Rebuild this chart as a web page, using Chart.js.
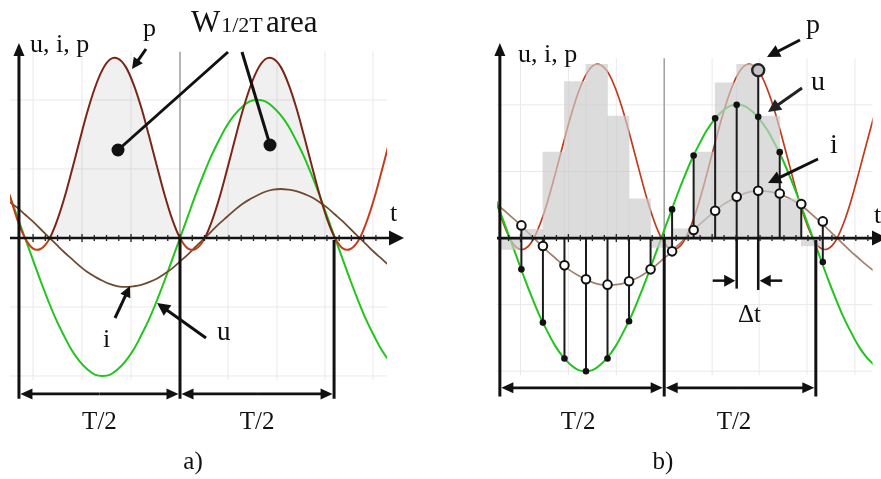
<!DOCTYPE html>
<html><head><meta charset="utf-8">
<script src="https://cdn.jsdelivr.net/npm/chart.js@4.4.1/dist/chart.umd.min.js"></script>
<style>
html,body{margin:0;padding:0;background:#fff;}
#wrap{position:relative;width:881px;height:479px;overflow:hidden;background:#fff;}
canvas{position:absolute;top:0;}
</style></head><body>
<div id="wrap">
<canvas id="ca" width="440" height="479" style="left:0px"></canvas>
<canvas id="cb" width="441" height="479" style="left:440px"></canvas>
</div>
<script>
// ---- time axis (ms), one period = 20 ms ----
const tCurve = [-1,-0.5,0,0.5,1,1.5,2,2.5,3,3.5,4,4.5,5,5.5,6,6.5,7,7.5,8,8.5,9,9.5,10,10.5,11,11.5,12,12.5,13,13.5,14,14.5,15,15.5,16,16.5,17,17.5,18,18.5,19,19.5,20,20.5,21,21.5,22,22.5,23,23.5,24];
// voltage u
const uCurve = [0.62,0.31,0,-0.31,-0.62,-0.91,-1.18,-1.41,-1.62,-1.78,-1.9,-1.98,-2,-1.98,-1.9,-1.78,-1.62,-1.41,-1.18,-0.91,-0.62,-0.31,0,0.31,0.62,0.91,1.18,1.41,1.62,1.78,1.9,1.98,2,1.98,1.9,1.78,1.62,1.41,1.18,0.91,0.62,0.31,0,-0.31,-0.62,-0.91,-1.18,-1.41,-1.62,-1.78,-1.9];
// current i
const iCurve = [0.52,0.44,0.34,0.24,0.13,0.02,-0.09,-0.2,-0.3,-0.4,-0.49,-0.56,-0.62,-0.67,-0.7,-0.71,-0.7,-0.68,-0.64,-0.59,-0.52,-0.44,-0.34,-0.24,-0.13,-0.02,0.09,0.2,0.3,0.4,0.49,0.56,0.62,0.67,0.7,0.71,0.7,0.68,0.64,0.59,0.52,0.44,0.34,0.24,0.13,0.02,-0.09,-0.2,-0.3,-0.4,-0.49];
// power p
const pCurve = [0.63,0.27,0,-0.15,-0.16,-0.04,0.21,0.55,0.96,1.39,1.81,2.17,2.44,2.59,2.6,2.48,2.23,1.89,1.48,1.05,0.63,0.27,0,-0.15,-0.16,-0.04,0.21,0.55,0.96,1.39,1.81,2.17,2.44,2.59,2.6,2.48,2.23,1.89,1.48,1.05,0.63,0.27,0,-0.15,-0.16,-0.04,0.21,0.55,0.96,1.39,1.81];
// W 1/2T shaded lobes (panel a), time ranges
const areaRanges = [[1.5,10],[11.5,20]];
// panel b: samples every Δt
const sampleT = [0.77,2.19,3.61,5.03,6.45,7.87,9.29,10.71,12.13,13.55,14.97,16.39,17.81,19.23,20.65];
const sampleU = [-0.47,-1.27,-1.81,-2.0,-1.81,-1.25,-0.45,0.43,1.24,1.8,2.0,1.82,1.29,0.5,-0.36];
const sampleI = [0.19,-0.12,-0.41,-0.62,-0.7,-0.65,-0.47,-0.2,0.12,0.41,0.62,0.71,0.67,0.51,0.25];
const pSampleIndex = 11;
const pSampleValue = 2.52;
// panel b: sample-and-hold power bars
const barT = [0.06,1.48,2.9,4.32,5.74,7.16,8.58,10.0,11.42,12.84,14.26,15.68,17.1,18.52,19.94];
const barP = [-0.17,0.13,1.29,2.35,2.61,1.83,0.59,-0.14,0.14,1.29,2.33,2.61,1.83,0.59,-0.12];
// grid / half periods
const gridA = [0.52,3.68,6.84,10,13.1,16.26,19.35,22.45];
const gridB = [0.71,3.87,7.03,10.19,13.35,16.45,19.61,22.77];
const gridY = [-2,-1,1,2];
const halfA = [-0.39,10,19.94];
const halfB = [-0.65,10.19,20.19];

const SERIF = '"Liberation Serif", "DejaVu Serif", serif';
const pts = (xs, ys) => xs.map((x, k) => ({x: x, y: ys[k]}));
const inArea = t => areaRanges.some(r => t >= r[0] - 1e-9 && t <= r[1] + 1e-9);

function line(ctx, x1, y1, x2, y2) { ctx.beginPath(); ctx.moveTo(x1, y1); ctx.lineTo(x2, y2); ctx.stroke(); }
function arrow(ctx, x1, y1, x2, y2, len, half, color, lw) {
  const dx = x2 - x1, dy = y2 - y1, d = Math.hypot(dx, dy), ux = dx / d, uy = dy / d;
  const bx = x2 - ux * len, by = y2 - uy * len;
  ctx.strokeStyle = color; ctx.fillStyle = color; ctx.lineWidth = lw || 3;
  line(ctx, x1, y1, bx + ux * 1, by + uy * 1);
  ctx.beginPath(); ctx.moveTo(x2, y2);
  ctx.lineTo(bx - uy * half, by + ux * half);
  ctx.lineTo(bx + uy * half, by - ux * half);
  ctx.closePath(); ctx.fill();
}
function text(ctx, s, x, y, size, align) {
  ctx.font = size + 'px ' + SERIF; ctx.fillStyle = '#111'; ctx.textAlign = align || 'left'; ctx.textBaseline = 'alphabetic';
  ctx.fillText(s, x, y);
}

function decoPlugin(cfg) {
  return {
    id: 'deco',
    beforeDatasetsDraw(chart) {
      const ctx = chart.ctx, X = v => chart.scales.x.getPixelForValue(v), Y = v => chart.scales.y.getPixelForValue(v);
      const ca = chart.chartArea;
      ctx.save();
      ctx.strokeStyle = '#e9e9e9'; ctx.lineWidth = 1;
      gridY.forEach(v => line(ctx, ca.left, Y(v), ca.right, Y(v)));
      cfg.grid.forEach(t => line(ctx, X(t), Y(2.7), X(t), Y(-2.06)));
      ctx.strokeStyle = '#a0a0a0'; ctx.lineWidth = 1.5;
      line(ctx, X(cfg.half[1]), Y(2.7), X(cfg.half[1]), Y(0));
      ctx.restore();
    },
    afterDatasetsDraw(chart) {
      const ctx = chart.ctx, X = v => chart.scales.x.getPixelForValue(v), Y = v => chart.scales.y.getPixelForValue(v);
      const ca = chart.chartArea;
      ctx.save();
      ctx.lineCap = 'butt';
      const y0 = Y(0);
      // x axis with ticks
      arrow(ctx, ca.left, y0, cfg.xTip, y0, 15, 7.5, '#111', 2.7);
      ctx.strokeStyle = '#222'; ctx.lineWidth = 1.3;
      const step = (cfg.grid[1] - cfg.grid[0]) / 4;
      for (let t = cfg.grid[0] - 3 * step; t <= cfg.grid[cfg.grid.length - 1] + 1.2 * step; t += step) {
        const px = X(t);
        if (px <= X(cfg.half[0]) + 4 || px > ca.right) continue;
        const major = cfg.grid.some(g => Math.abs(g - t) < 1e-6);
        line(ctx, px, y0 - (major ? 4 : 3), px, y0 + (major ? 4 : 3));
      }
      // y axis
      const ax = X(cfg.half[0]);
      arrow(ctx, ax, Y(cfg.dimBottom), ax, 43, 13, 5.5, '#111', 3);
      // half-period verticals and dimension arrows
      ctx.strokeStyle = '#111'; ctx.lineWidth = 3;
      line(ctx, X(cfg.half[1]), y0, X(cfg.half[1]), Y(cfg.dimBottom));
      line(ctx, X(cfg.half[2]), y0 + 2, X(cfg.half[2]), Y(cfg.dimBottom));
      const dy = Y(cfg.dimY);
      for (let k = 0; k < 2; k++) {
        const a = X(cfg.half[k]), b = X(cfg.half[k + 1]), m = (a + b) / 2;
        arrow(ctx, m, dy, a + 1.5, dy, 12, 5.5, '#111', 2.6);
        arrow(ctx, m, dy, b - 1.5, dy, 12, 5.5, '#111', 2.6);
        text(ctx, 'T/2', m + cfg.tOff[k], 429, 25, 'center');
      }
      text(ctx, cfg.panel, cfg.panelX, 469, 25, 'center');
      cfg.extra(ctx, X, Y);
      ctx.restore();
    }
  };
}

const baseOptions = (padL, padR, xmin, xmax) => ({
  responsive: false, animation: false, devicePixelRatio: 1, events: [],
  layout: {padding: {left: padL, right: padR, top: 0, bottom: 0}},
  plugins: {legend: {display: false}, tooltip: {enabled: false}, title: {display: false}},
  elements: {point: {radius: 0}, line: {tension: 0.35}},
  scales: {
    x: {type: 'linear', min: xmin, max: xmax, display: false, offset: false, afterBuildTicks: s => { s.ticks = []; }},
    y: {type: 'linear', min: -3.493, max: 3.449, display: false}
  }
});

// ---------------- Panel a ----------------
const maroon = '#7a2616', redp = '#c23d1e';
new Chart(document.getElementById('ca'), {
  type: 'line',
  data: {datasets: [
    {data: tCurve.map((t, k) => ({x: t, y: inArea(t) ? pCurve[k] : null})), borderWidth: 0, borderColor: 'rgba(0,0,0,0)',
     fill: {target: 'origin', above: 'rgba(0,0,0,0.06)', below: 'rgba(0,0,0,0)'}, spanGaps: false, order: 9},
    {data: pts(tCurve, uCurve), borderColor: '#22c41e', borderWidth: 2, fill: false, order: 5},
    {data: pts(tCurve, iCurve), borderColor: '#6f4a30', borderWidth: 1.8, fill: false, order: 4},
    {data: pts(tCurve, pCurve), borderColor: maroon, borderWidth: 2, fill: false, order: 3,
     segment: {borderColor: c => (inArea(c.p0.parsed.x) && inArea(c.p1.parsed.x)) ? maroon : redp}}
  ]},
  options: baseOptions(10, 53, -0.968, 23.355),
  plugins: [decoPlugin({
    grid: gridA, half: halfA, xTip: 404, dimBottom: -2.33, dimY: -2.26, tOff: [0, 0], panel: 'a)', panelX: 193,
    extra: (ctx) => {
      text(ctx, 'u, i, p', 30, 52, 26);
      text(ctx, 'p', 143, 36, 26);
      arrow(ctx, 146, 49, 132, 69, 11, 5.5, '#111', 3);
      // W 1/2T area
      ctx.font = '31px ' + SERIF; ctx.fillStyle = '#111'; ctx.textAlign = 'left';
      ctx.fillText('W', 191, 32);
      const w = ctx.measureText('W').width;
      ctx.font = '22px ' + SERIF; ctx.fillText('1/2T', 191 + w + 1, 32);
      ctx.font = '31px ' + SERIF; ctx.fillText('area', 266, 32);
      ctx.strokeStyle = '#111'; ctx.lineWidth = 3;
      line(ctx, 228, 52, 118, 150); line(ctx, 242, 52, 270, 145);
      ctx.fillStyle = '#111';
      ctx.beginPath(); ctx.arc(118, 150, 6.5, 0, 2 * Math.PI); ctx.fill();
      ctx.beginPath(); ctx.arc(270, 145, 6.5, 0, 2 * Math.PI); ctx.fill();
      // i and u labels
      text(ctx, 'i', 103, 347, 26);
      arrow(ctx, 115, 318, 130, 286, 11, 5.5, '#111', 3);
      text(ctx, 'u', 217, 340, 27);
      arrow(ctx, 206, 338, 157, 303, 13, 6.5, '#111', 3);
      text(ctx, 't', 390, 221, 26);
    }
  })]
});

// ---------------- Panel b ----------------
const sampleLines = [];
sampleT.forEach((t, k) => {
  const vals = [0, sampleU[k], sampleI[k]];
  if (k === pSampleIndex) vals.push(pSampleValue);
  sampleLines.push({x: t, y: Math.min.apply(null, vals)}, {x: t, y: Math.max.apply(null, vals)}, {x: t, y: null});
});
new Chart(document.getElementById('cb'), {
  type: 'line',
  data: {datasets: [
    {data: pts(tCurve, uCurve), borderColor: '#22c41e', borderWidth: 2, fill: false, order: 6},
    {data: pts(tCurve, iCurve), borderColor: '#a3806a', borderWidth: 1.7, fill: false, order: 6},
    {data: pts(tCurve, pCurve), borderColor: '#c23a1b', borderWidth: 1.7, fill: false, order: 6},
    {type: 'bar', data: pts(barT, barP), backgroundColor: 'rgba(204,204,204,0.68)', borderWidth: 0,
     barPercentage: 1, categoryPercentage: 1, grouped: false, order: 4},
    {data: sampleLines, borderColor: '#1b1b1b', borderWidth: 2, tension: 0, spanGaps: false, fill: false, order: 3},
    {data: pts(sampleT, sampleU), showLine: false, pointRadius: 3.3, pointBackgroundColor: '#111', pointBorderWidth: 0, order: 2},
    {data: pts(sampleT, sampleI), showLine: false, pointRadius: 4.3, pointBackgroundColor: '#fff', pointBorderColor: '#111', pointBorderWidth: 2, order: 1},
    {data: [{x: sampleT[pSampleIndex], y: pSampleValue}], showLine: false, pointRadius: 6, pointBackgroundColor: '#c4c4c4', pointBorderColor: '#222', pointBorderWidth: 2.4, order: 0}
  ]},
  options: baseOptions(57, 0, -0.839, 23.935),
  plugins: [decoPlugin({
    grid: gridB, half: halfB, xTip: 447, dimBottom: -2.38, dimY: -2.25, tOff: [-4, -6], panel: 'b)', panelX: 223,
    extra: (ctx, X, Y) => {
      text(ctx, 'u, i, p', 78, 62, 26);
      text(ctx, 'p', 366, 33, 28);
      arrow(ctx, 360, 40, 327, 57, 13, 6.5, '#111', 3);
      text(ctx, 'u', 371, 90, 28);
      arrow(ctx, 362, 88, 328, 112, 13, 6.5, '#222', 3);
      text(ctx, 'i', 390, 153, 28);
      arrow(ctx, 378, 159, 328, 183, 13, 6.5, '#111', 3);
      text(ctx, 't', 434, 223, 26);
      // Δt dimension
      const a = X(sampleT[10]), b = X(sampleT[11]), yy = Y(-0.64);
      ctx.strokeStyle = '#111'; ctx.lineWidth = 2.5;
      line(ctx, a, Y(0), a, Y(-0.76)); line(ctx, b, Y(0), b, Y(-0.78));
      arrow(ctx, a - 24, yy, a - 1.5, yy, 11, 6, '#111', 2.5);
      arrow(ctx, b + 24, yy, b + 1.5, yy, 11, 6, '#111', 2.5);
      text(ctx, 'Δt', (a + b) / 2 + 2, 322, 25, 'center');
    }
  })]
});
</script>
</body></html>
